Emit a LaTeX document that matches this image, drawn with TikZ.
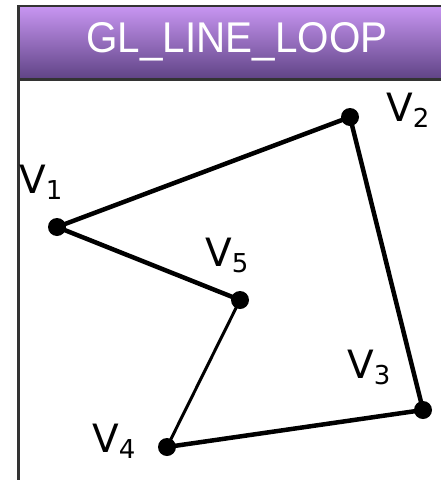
\documentclass[tikz,border=0pt]{standalone}
\usepackage{fontspec}
\usepackage{tikz}
\newfontfamily\titrefont{Liberation Sans}
\newfontfamily\etiqfont{DejaVu Sans}
\definecolor{violetclair}{HTML}{C896F2}
\definecolor{violetfonce}{HTML}{5E4284}
\definecolor{cadre}{HTML}{333333}
\tikzset{
  sommet/.style={circle,fill=black,inner sep=0pt,minimum size=18pt},
  trait/.style={line width=4.5pt,line join=round},
  traitfin/.style={line width=3pt},
  etiq/.style={anchor=base west,inner sep=0pt,font=\etiqfont\fontsize{39}{39}\selectfont},
}
\newcommand{\vsub}[1]{V\raisebox{-6pt}{\fontsize{26}{26}\selectfont #1}}

\begin{document}
\begin{tikzpicture}[x=1pt,y=-1pt]
  \useasboundingbox (0,0) rectangle (441,480);
  % bandeau du titre
  \shade[top color=violetclair,bottom color=violetfonce] (19,6) rectangle (445,80);
  \draw[cadre,line width=2.5pt] (445,6) -- (18.5,6) -- (18.5,490);
  \draw[cadre,line width=3pt] (18.5,79.5) -- (445,79.5);
  \node[anchor=base,text=white,inner sep=0pt,xscale=0.94,transform shape,
        font=\titrefont\fontsize{43}{43}\selectfont] (titre) at (237,52) {GL\_LINE\_LOOP};
  % sommets
  \node[sommet] (v1) at (57,227) {};
  \node[sommet] (v2) at (350,117) {};
  \node[sommet] (v3) at (423,410) {};
  \node[sommet] (v4) at (167,447) {};
  \node[sommet] (v5) at (240,300) {};
  \draw[trait] (v1.center) -- (v2.center) -- (v3.center) -- (v4.center);
  \draw[traitfin] (v4.center) -- (v5.center);
  \draw[trait] (v5.center) -- (v1.center);
  % etiquettes
  \node[etiq] (e1) at (19,193) {\vsub{1}};
  \node[etiq] (e2) at (386,121) {\vsub{2}};
  \node[etiq] (e3) at (347,378) {\vsub{3}};
  \node[etiq] (e4) at (92,452) {\vsub{4}};
  \node[etiq] (e5) at (205,266) {\vsub{5}};
\end{tikzpicture}
\end{document}
